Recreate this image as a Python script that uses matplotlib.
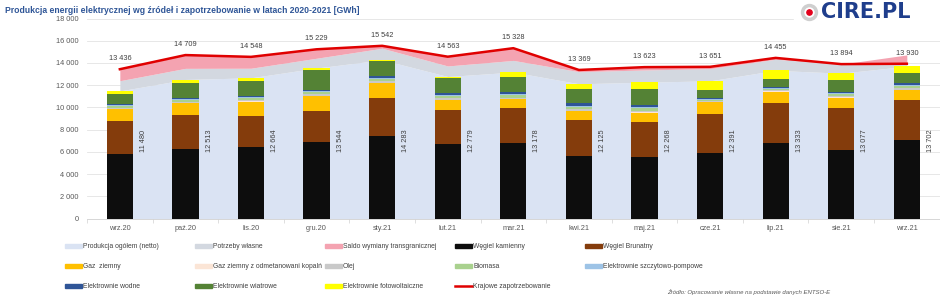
import matplotlib
matplotlib.use("Agg")
import matplotlib.pyplot as plt
from matplotlib.patches import Rectangle
from matplotlib.lines import Line2D
import numpy as np

plt.rcParams["font.family"] = ["Liberation Sans", "DejaVu Sans"]

months = ["wrz.20", "paź.20", "lis.20", "gru.20", "sty.21", "lut.21", "mar.21",
          "kwi.21", "maj.21", "cze.21", "lip.21", "sie.21", "wrz.21"]

# area series (GWh)
netto = [11480, 12513, 12664, 13544, 14283, 12779, 13178, 12125, 12268, 12391, 13333, 13077, 13702]
potrzeby = [920, 1000, 860, 880, 1040, 950, 1050, 1090, 1100, 1100, 1000, 817, 150]
saldo = [1036, 1196, 1024, 805, 219, 834, 1100, 154, 255, 160, 122, 0, 870]
zapotrzebowanie = [13436, 14709, 14548, 15229, 15542, 14563, 15328, 13369, 13623, 13651, 14455, 13894, 13930]

# stacked columns (GWh), bottom to top
kamienny = [5800, 6280, 6460, 6860, 7430, 6700, 6820, 5650, 5500, 5920, 6770, 6170, 7070]
brunatny = [2980, 3040, 2790, 2820, 3440, 3070, 3100, 3220, 3160, 3460, 3600, 3810, 3600]
gaz = [1050, 1050, 1260, 1350, 1300, 900, 810, 810, 870, 1080, 1040, 890, 900]
odmetanowanie = [25, 30, 30, 30, 30, 30, 30, 30, 30, 25, 25, 25, 30]
olej = [120, 130, 140, 140, 140, 130, 130, 130, 150, 90, 90, 120, 130]
biomasa = [150, 150, 190, 190, 190, 190, 190, 190, 240, 110, 110, 160, 190]
pompowe = [85, 70, 90, 90, 90, 100, 100, 100, 120, 75, 75, 95, 100]
wodne = [80, 120, 100, 110, 200, 150, 200, 240, 150, 90, 140, 90, 150]
wiatrowe = [950, 1350, 1330, 1800, 1363, 1350, 1380, 1260, 1410, 720, 700, 1110, 960]
fotowoltaiczne = [240, 290, 270, 150, 100, 160, 420, 500, 640, 820, 780, 600, 570]

bar_series = [
    ("Węgiel kamienny", kamienny, "#0D0D0D"),
    ("Węgiel Brunatny", brunatny, "#843C0C"),
    ("Gaz  ziemny", gaz, "#FFC000"),
    ("Gaz ziemny z odmetanowani kopalń", odmetanowanie, "#FBE5D6"),
    ("Olej", olej, "#C9C9C9"),
    ("Biomasa", biomasa, "#A9D18E"),
    ("Elektrownie szczytowo-pompowe", pompowe, "#9DC3E6"),
    ("Elektrownie wodne", wodne, "#2F5597"),
    ("Elektrownie wiatrowe", wiatrowe, "#548235"),
    ("Elektrownie fotowoltaiczne", fotowoltaiczne, "#FFFF00"),
]
c_netto, c_potrzeby, c_saldo, c_line = "#DAE3F3", "#D3D8E0", "#F4A3B1", "#E00000"
txt = "#404040"


def fmt(v):
    return f"{v:,}".replace(",", " ")


fig = plt.figure(figsize=(9.4, 2.97), dpi=100)
ax = fig.add_axes([0.0926, 0.2643, 0.907, 0.6734])
x = np.arange(len(months))

# areas
lvl1 = np.array(netto)
lvl2 = lvl1 + np.array(potrzeby)
lvl3 = lvl2 + np.array(saldo)
ax.fill_between(x, 0, lvl1, color=c_netto, lw=0, zorder=1)
ax.fill_between(x, lvl1, lvl2, color=c_potrzeby, lw=0, zorder=1)
ax.fill_between(x, lvl2, lvl3, color=c_saldo, lw=0, zorder=1)

# stacked columns
bottom = np.zeros(len(months))
for name, vals, col in bar_series:
    ax.bar(x, vals, 0.4, bottom=bottom, color=col, lw=0, zorder=2)
    bottom += np.array(vals)

ax.plot(x, zapotrzebowanie, color=c_line, lw=1.8, zorder=4)

for i in range(len(months)):
    ax.annotate(fmt(zapotrzebowanie[i]), (x[i], zapotrzebowanie[i]), xytext=(0, 5),
                textcoords="offset points", ha="center", va="bottom", fontsize=5.3, color=txt)
    ax.text(x[i] + 0.36, 7000, fmt(netto[i]), rotation=90, ha="center", va="center",
            fontsize=5.3, color=txt, zorder=5)

ax.set_xlim(-0.5, len(months) - 0.5)
ax.set_ylim(0, 18000)
ax.set_yticks(np.arange(0, 18001, 2000))
ax.set_yticklabels([fmt(v) for v in range(0, 18001, 2000)], fontsize=5.3, color="#595959")
ax.set_xticks(x)
ax.set_xticklabels(months, fontsize=5.3, color="#595959")
ax.set_xticks(np.arange(-0.5, len(months), 1), minor=True)
ax.tick_params(axis="x", which="major", length=0, pad=5)
ax.tick_params(axis="x", which="minor", length=3, color="#D9D9D9", width=0.6)
ax.tick_params(axis="y", length=0, pad=6)
ax.grid(axis="y", color="#E3E3E3", lw=0.6, zorder=0)
ax.set_axisbelow(True)
for s in ["top", "right", "left"]:
    ax.spines[s].set_visible(False)
ax.spines["bottom"].set_color("#D0D0D0")
ax.spines["bottom"].set_linewidth(0.6)

# title and logo
fig.text(0.005, 0.965, "Produkcja energii elektrycznej wg źródeł i zapotrzebowanie w latach 2020-2021 [GWh]",
         fontsize=6.2, fontweight="bold", color="#2E5597", va="center")
fig.patches.append(Rectangle((0.845, 0.9), 0.155, 0.1, transform=fig.transFigure,
                             color="white", zorder=3))
fig.add_artist(Line2D([0.8605], [0.958], marker="o", ms=10, mfc="white", mec="#CFCFCF", mew=2.5,
                      transform=fig.transFigure, zorder=4))
fig.add_artist(Line2D([0.8605], [0.958], marker="o", ms=3.8, color="#E3001B",
                      transform=fig.transFigure, zorder=5))
fig.text(0.873, 0.958, "CIRE.PL", fontsize=15, fontweight="heavy", color="#1F3E8C",
         family="DejaVu Sans", va="center", zorder=5)

# legend (manual, 5 columns x 3 rows like the Excel layout)
legend_items = [("Produkcja ogółem (netto)", c_netto, "patch"),
                ("Potrzeby własne", c_potrzeby, "patch"),
                ("Saldo wymiany transgranicznej", c_saldo, "patch")]
legend_items += [(n, c, "patch") for n, _, c in bar_series]
legend_items += [("Krajowe zapotrzebowanie", c_line, "line")]
col_x = [65, 195, 325, 455, 585]
row_y = [246, 266, 286]
for k, (name, col, kind) in enumerate(legend_items):
    px, py = col_x[k % 5], row_y[k // 5]
    fx, fy = px / 940, 1 - py / 297
    if kind == "line":
        fig.add_artist(Line2D([fx, fx + 17 / 940], [fy, fy], color=col, lw=1.8,
                              transform=fig.transFigure))
    else:
        fig.patches.append(Rectangle((fx, fy - 2 / 297), 17 / 940, 4 / 297,
                                     transform=fig.transFigure, color=col))
    fig.text(fx + 18 / 940, fy, name, fontsize=4.9, color=txt, va="center")

fig.text(667 / 940, 1 - 292 / 297, "Źródło: Opracowanie własne na podstawie danych ENTSO-E",
         fontsize=4.3, style="italic", color="#595959", va="center")

fig.savefig("out.png", dpi=100)
